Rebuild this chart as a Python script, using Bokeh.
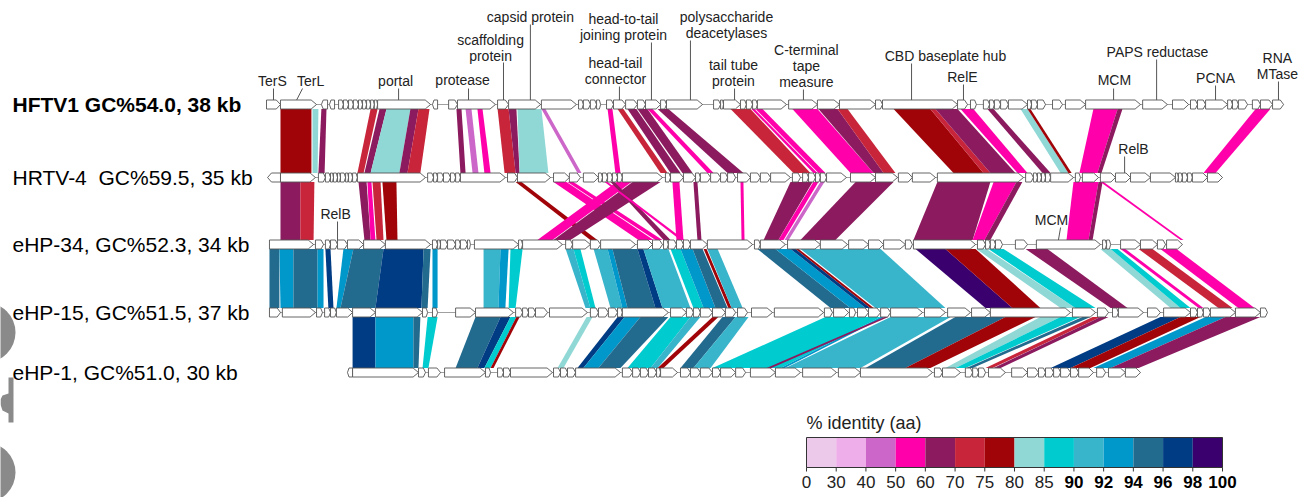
import numpy as np
from bokeh.plotting import figure
from bokeh.models import Range1d
from bokeh.core.properties import value
from bokeh.embed import file_html
from bokeh.resources import INLINE

FONT = "Liberation Sans"

# ---------------- data ----------------
genome_labels = ["HFTV1 GC%54.0, 38 kb", "HRTV-4 \u00a0GC%59.5, 35 kb", "eHP-34, GC%52.3, 34 kb",
                 "eHP-15, GC%51.5, 37 kb", "eHP-1, GC%51.0, 30 kb"]
label_bold = [True, False, False, False, False]

# genes: (start kb, end kb) in a common alignment coordinate
hftv1_genes = [(0.00,0.52),(0.52,1.86),(2.04,2.27),(2.34,2.53),(2.68,2.86),(2.86,3.05),(3.05,3.23),(3.23,3.42),
    (3.42,3.57),(3.57,3.72),(3.72,3.87),(3.87,4.01),(4.01,4.13),(4.13,6.10),(6.17,6.36),(6.77,7.10),(7.10,8.51),
    (8.59,9.00),(9.00,10.19),(10.22,11.52),(11.60,11.78),(11.78,12.04),(12.04,12.27),(12.27,12.42),(12.64,12.90),
    (12.90,13.35),(13.35,13.79),(13.79,14.09),(14.09,14.65),(14.65,14.87),(14.87,16.21),(16.62,16.88),(16.88,16.99),
    (16.99,17.62),(17.62,17.84),(17.84,18.07),(18.07,18.25),(18.25,19.33),(19.41,20.48),(20.48,21.30),(21.30,22.64),
    (22.64,22.90),(22.90,25.69),(25.69,26.06),(26.17,26.39),(26.65,26.88),(26.88,27.06),(27.06,27.29),(27.29,27.58),
    (27.58,28.29),(28.29,28.44),(28.44,28.66),(28.66,28.96),(29.22,29.59),(29.70,30.45),(30.45,32.49),(32.57,33.49),
    (33.68,34.28),(34.35,34.61),(34.61,34.91),(34.91,35.73),(35.73,35.91),(35.91,36.13),(36.13,36.47),(36.65,36.95),
    (36.95,37.40),(37.40,37.81)]
hftv1_reverse = [2, 3, 14]

hrtv4_genes = [(0.04,0.52),(0.52,1.82),(1.93,2.19),(2.19,2.38),(2.38,2.49),(2.49,2.64),(2.64,2.75),(2.75,2.94),
    (2.94,3.05),(3.05,3.20),(3.20,3.38),(3.38,5.91),(5.99,6.21),(6.21,6.36),(6.36,6.58),(6.58,6.84),(6.84,7.03),
    (7.03,7.21),(7.21,8.88),(8.96,9.33),(9.33,10.56),(10.67,11.26),(11.26,11.67),(11.78,12.34),(12.34,12.49),
    (12.49,12.68),(12.68,12.86),(12.86,13.05),(13.05,13.23),(13.23,14.72),(14.83,15.02),(15.02,15.50),(15.50,15.95),
    (15.95,16.13),(16.13,16.51),(16.51,16.88),(16.88,17.14),(17.14,17.44),(17.51,17.99),(17.99,18.36),(18.36,18.74),
    (18.74,19.48),(19.55,19.85),(19.93,20.15),(20.15,20.41),(20.41,20.59),(20.59,20.82),(20.82,21.56),(21.71,22.64),
    (22.64,23.46),(23.49,24.01),(24.01,24.87),(24.94,28.14),(28.22,28.51),(28.51,28.66),(28.66,28.81),(28.81,28.96),
    (28.96,29.15),(29.15,30.00),(30.07,30.26),(30.33,30.93),(31.00,31.56),(31.56,32.12),(32.12,32.86),(32.86,33.79),
    (33.79,33.90),(33.90,34.05),(34.05,34.24),(34.24,34.42),(34.42,34.98),(34.98,35.54)]
hrtv4_reverse = [0]

ehp34_genes = [(0.11,1.75),(1.82,2.12),(2.19,2.38),(2.38,2.64),(2.64,3.01),(3.01,3.61),(3.61,4.42),(4.42,6.10),
    (6.17,6.36),(6.36,6.47),(6.47,6.73),(6.73,7.03),(7.03,7.21),(7.21,7.47),(7.47,7.58),(7.73,9.37),(9.37,9.52),
    (9.52,11.00),(11.12,11.38),(11.38,12.04),(12.04,12.42),(12.42,13.72),(13.79,14.35),(14.35,14.72),(14.76,14.94),
    (14.94,15.24),(15.24,15.50),(15.50,15.76),(15.76,16.39),(16.39,18.07),(18.14,18.36),(18.36,19.29),(19.37,20.59),
    (20.59,21.60),(21.64,22.38),(22.38,22.94),(22.94,23.75),(23.75,24.01),(24.05,26.36),(26.43,26.73),(26.73,26.91),
    (26.91,27.10),(27.10,27.36),(27.84,28.29),(28.62,31.00),(31.08,31.23),(31.23,31.38),(31.75,32.49),(32.49,33.12),
    (33.12,33.42),(33.46,34.05)]
ehp34_reverse = []

ehp15_genes = [(0.11,0.52),(0.59,1.82),(1.86,2.08),(2.16,2.38),(2.38,2.60),(2.60,3.20),(3.20,4.05),(4.05,5.80),
    (5.80,5.99),(6.17,6.36),(7.03,7.77),(7.77,9.18),(9.26,9.52),(9.52,9.74),(9.74,10.00),(10.00,10.45),(10.52,11.93),
    (12.04,12.34),(12.34,12.71),(12.71,13.05),(13.05,13.23),(13.23,14.94),(15.02,15.61),(15.61,15.87),(15.87,16.13),
    (16.13,16.58),(16.58,17.06),(17.06,17.44),(17.51,17.88),(18.03,18.81),(18.88,20.71),(20.74,21.04),(21.08,21.64),
    (21.67,21.90),(21.97,22.38),(22.38,22.83),(22.83,23.20),(23.20,24.39),(24.46,25.24),(25.32,26.17),(26.21,26.91),
    (26.91,29.89),(29.96,30.82),(30.89,31.30),(31.45,31.67),(31.67,32.60),(32.75,33.23),(33.35,34.35),(34.35,34.61),
    (34.61,34.83),(34.83,35.09),(35.09,36.02),(36.02,36.95),(36.95,37.21)]
ehp15_reverse = []

ehp1_genes = [(3.01,3.20),(3.20,5.65),(5.65,5.91),(6.02,6.47),(6.62,8.14),(8.14,8.33),(8.59,8.81),(8.81,9.07),
    (9.07,10.63),(10.67,10.93),(10.93,11.19),(11.19,11.49),(11.49,13.16),(13.23,13.61),(13.61,13.90),(13.90,14.20),
    (14.20,14.50),(14.50,14.65),(14.65,15.28),(15.39,15.76),(15.76,16.13),(16.13,16.58),(16.58,16.88),(16.88,17.44),
    (17.44,17.81),(17.99,18.92),(18.92,19.85),(19.93,21.19),(21.26,22.08),(22.08,24.76),(24.83,25.13),(25.13,25.80),
    (25.98,26.25),(26.25,26.47),(26.47,26.73),(26.84,27.47),(27.70,28.29),(28.29,28.70),(28.70,28.96),(28.96,29.26),
    (29.26,29.52),(29.52,29.89),(29.89,30.19),(30.19,30.74),(30.86,31.19),(31.30,31.93),(31.93,32.49)]
ehp1_reverse = [0]

# homology links: (upper start, upper end, lower start, lower end, % aa identity)
links_hftv1_hrtv4 = [
    (0.52,1.67,0.52,1.67,78),(1.71,1.93,1.71,1.90,83),(2.04,2.23,1.93,2.16,65),(3.87,4.13,3.38,3.61,72),
    (4.20,4.46,3.64,3.87,65),(4.46,5.35,3.87,4.94,83),(5.35,5.65,4.94,5.24,65),(5.65,6.06,5.24,5.72,72),
    (7.06,7.25,7.21,7.40,65),(7.40,7.62,7.66,7.88,45),(7.84,8.03,8.10,8.33,55),(8.59,9.00,8.85,9.26,72),
    (9.00,9.29,9.26,9.41,65),(9.33,10.22,9.41,10.48,83),(10.22,10.37,11.56,11.71,45),(12.68,12.86,12.97,13.16,55),
    (13.05,13.27,14.65,14.91,72),(13.42,13.75,15.02,15.39,65),(13.79,14.16,15.46,15.84,65),(14.16,14.35,16.39,16.62,55),
    (14.54,14.94,17.14,17.73,65),(17.25,17.99,19.59,20.22,72),(18.03,18.14,20.33,20.48,55),(18.18,18.44,20.52,20.78,55),
    (19.55,20.48,21.71,22.57,55),(20.52,21.23,22.57,22.94,65),(21.23,21.60,22.94,23.38,72),(23.31,24.68,25.54,26.65,78),
    (24.68,24.87,26.65,26.91,72),(24.87,25.69,26.91,27.84,65),(25.80,26.28,27.92,28.29,55),(26.80,27.03,28.85,29.15,65),
    (28.03,28.29,29.52,29.81,83),(28.29,28.40,29.81,29.93,78),(30.74,31.64,30.22,30.89,55),(31.64,31.82,30.89,31.04,65),
    (36.77,37.32,34.83,35.28,55)]
links_hrtv4_ehp34 = [
    (0.52,1.26,0.52,1.26,65),(1.26,1.78,1.26,1.75,72),(3.42,3.72,3.64,3.87,65),(3.75,3.90,3.87,4.05,55),
    (3.94,4.24,4.09,4.35,72),(4.31,4.83,4.46,4.87,78),(9.26,9.48,12.04,12.30,78),(10.67,11.15,13.83,14.39,55),
    (11.19,11.41,14.46,14.72,55),(13.01,13.57,10.07,10.63,55),(13.61,14.65,10.67,11.30,65),(12.79,12.94,14.76,15.02,65),
    (12.57,12.68,15.39,15.54,55),(15.09,15.35,15.24,15.50,55),(15.87,16.02,16.02,16.17,65),(17.62,17.73,17.66,17.77,55),
    (19.48,20.30,18.48,19.03,65),(20.33,20.52,19.03,19.22,55),(20.59,20.74,19.26,19.41,45),(21.90,23.31,19.85,21.15,65),
    (24.94,26.91,24.05,26.25,65),(27.03,27.88,26.25,26.69,55),(27.88,28.10,26.69,26.91,65),(30.00,30.93,29.74,30.56,55),
    (30.93,31.08,30.56,30.71,65),(31.00,31.12,33.98,34.09,55)]
links_ehp34_ehp15 = [
    (0.11,0.48,0.11,0.48,95),(0.48,1.00,0.52,1.00,93),(1.00,1.90,1.00,1.90,95),(1.90,2.12,1.90,2.12,93),
    (2.19,2.38,2.30,2.49,97),(2.86,3.23,2.60,2.75,93),(3.23,4.35,2.75,4.05,95),(4.35,5.84,4.05,5.76,97),
    (5.84,6.10,5.76,5.99,95),(6.17,6.36,6.17,6.36,93),(8.07,8.70,8.07,8.62,91),(8.70,9.00,8.62,8.88,93),
    (9.07,9.52,9.00,9.26,88),(11.12,11.41,11.86,12.04,91),(11.41,11.67,12.04,12.23,88),(12.16,12.68,12.79,13.23,91),
    (12.68,12.86,13.23,13.42,93),(12.86,13.79,13.42,14.46,95),(13.79,14.01,14.46,14.72,97),(14.01,14.94,14.72,15.76,91),
    (15.02,15.39,15.87,16.25,88),(15.39,15.84,16.25,16.69,93),(15.84,16.21,16.69,17.14,95),(16.25,16.36,17.17,17.29,78),
    (16.39,16.77,17.29,17.70,91),(18.25,18.92,20.97,21.71,95),(18.92,19.48,21.71,22.27,93),(19.48,19.67,22.27,22.45,97),
    (19.67,19.78,22.45,22.57,78),(19.85,22.83,22.64,25.24,91),(24.13,25.24,26.73,27.73,99),(25.24,26.36,27.73,28.77,78),
    (26.39,26.77,29.52,30.07,83),(26.84,27.40,30.07,30.82,88),(28.22,29.03,31.38,32.01,65),(31.00,31.38,33.61,33.98,83),
    (31.38,31.64,33.98,34.35,88),(31.75,31.93,34.65,34.83,55),(32.42,32.94,35.39,35.91,72),(33.23,33.83,36.13,36.73,55)]
links_ehp15_ehp1 = [
    (3.20,4.05,3.20,4.05,97),(4.05,5.46,4.05,5.46,93),(5.46,5.72,5.46,5.65,95),(5.99,6.36,5.80,6.02,88),
    (7.77,8.70,7.03,7.84,95),(8.70,9.07,7.84,8.10,97),(9.07,9.29,8.10,8.33,88),(9.29,9.41,8.33,8.44,78),
    (11.90,12.12,10.82,11.04,83),(13.05,13.31,11.56,11.78,97),(13.31,13.90,11.78,12.34,93),(13.90,14.94,12.34,13.16,95),
    (15.02,15.76,13.42,14.28,88),(15.76,16.13,14.28,14.54,91),(16.58,16.80,14.54,14.76,78),(16.95,17.44,15.39,15.87,95),
    (17.44,17.92,15.87,16.51,91),(20.78,22.83,16.58,19.11,88),(22.83,22.97,19.11,19.26,93),(22.97,23.12,18.59,18.77,65),
    (23.20,25.43,19.29,22.08,91),(25.61,27.47,22.27,23.75,95),(27.47,28.59,23.75,24.68,78),(28.77,29.52,25.24,25.61,83),
    (29.52,30.26,25.61,25.98,88),(30.33,30.63,26.02,26.25,95),(30.71,31.00,26.73,26.99,72),(31.00,31.30,27.03,27.29,65),
    (33.23,33.98,29.15,29.89,97),(33.98,34.72,29.89,30.63,78),(34.91,35.65,30.74,31.38,93),(35.65,36.95,31.38,32.42,65)]

# gene annotations: (text, text x kb, first-line y px, leader top x kb, leader bottom x kb, leader top y px, track)
annotations = [
    ("TerS", 0.22, 80, 0.26, 0.26, 88, 0),
    ("TerL", 1.64, 80, 1.34, 1.12, 88, 0),
    ("portal", 4.80, 80, 4.91, 4.91, 88, 0),
    ("protease", 7.29, 79, 7.51, 7.51, 88, 0),
    ("scaffolding\nprotein", 8.33, 39, 8.81, 8.81, 62, 0),
    ("capsid protein", 9.81, 16, 9.81, 9.81, 24, 0),
    ("head-to-tail\njoining protein", 13.27, 18, 14.31, 14.31, 42, 0),
    ("head-tail\nconnector", 12.97, 62, 13.12, 13.12, 86, 0),
    ("polysaccharide\ndeacetylases", 17.10, 16, 15.76, 15.76, 40, 0),
    ("tail tube\nprotein", 17.36, 64, 17.40, 17.40, 88, 0),
    ("C-terminal\ntape\nmeasure", 20.07, 49, 19.96, 19.96, 89, 0),
    ("CBD baseplate hub", 25.24, 55, 23.98, 23.98, 63, 0),
    ("RelE", 25.87, 76, 25.91, 25.91, 84, 0),
    ("MCM", 31.52, 79, 31.49, 31.49, 88, 0),
    ("PAPS reductase", 33.12, 51, 33.09, 33.09, 59, 0),
    ("PCNA", 35.28, 77, 35.28, 35.28, 85, 0),
    ("RNA\nMTase", 37.58, 57, 37.62, 37.62, 81, 0),
    ("RelB", 32.23, 148, 31.90, 31.90, 156, 1),
    ("RelB", 2.57, 213, 2.64, 2.64, 221, 2),
    ("MCM", 29.18, 219, 29.52, 29.44, 227, 2),
]

identity_edges = [0, 30, 40, 50, 60, 70, 75, 80, 85, 90, 92, 94, 96, 98, 100]
identity_colors = ["#ecc8ea", "#eeaeea", "#cc66c8", "#ff00aa", "#8b1a5e", "#c8253a", "#a00408",
                   "#8fd8d6", "#00cccf", "#38b4cb", "#0098cb", "#226b8f", "#003c83", "#3a006e"]
bold_threshold = 90

# ---------------- layout (pixels of the page) ----------------
W, H = 1312, 497
PX_PER_KB = 26.9
ORIGIN_PX = 266
track_y = [104, 177, 244, 312, 372]
GENE_H = 4.5
LINE_GAP = 16

XS = -ORIGIN_PX / PX_PER_KB
XE = XS + W / PX_PER_KB


def X(px):
    return XS + px / PX_PER_KB


def ident_color(v):
    i = int(np.searchsorted(identity_edges, v, side="right")) - 1
    return identity_colors[max(0, min(i, len(identity_colors) - 1))]


p = figure(width=W, height=H, x_range=Range1d(XS, XE), y_range=Range1d(H, 0),
           output_backend="svg", toolbar_location=None, min_border=0,
           x_axis_location=None, y_axis_location=None, outline_line_color=None)
p.grid.visible = False
p.background_fill_color = "white"

# decorative gray shapes at left edge
p.circle(x=[X(-15), X(-15)], y=[332, 472], radius=30, radius_units="screen",
         fill_color="#8a8a8a", line_color=None)
p.patch(x=[X(8), X(13), X(13), X(8), X(8), X(2), X(0), X(0), X(2), X(8)],
        y=[377, 377, 422, 422, 413, 410, 404, 399, 395, 393],
        fill_color="#8a8a8a", line_color=None)

# links
pairs = [links_hftv1_hrtv4, links_hrtv4_ehp34, links_ehp34_ehp15, links_ehp15_ehp1]
for k, links in enumerate(pairs):
    y0 = track_y[k] + GENE_H
    y1 = track_y[k + 1] - GENE_H
    xs, ys, cols = [], [], []
    for ta, tb, ba, bb, ident in links:
        xs.append([ta, tb, bb, ba])
        ys.append([y0, y0, y1, y1])
        cols.append(ident_color(ident))
    p.patches(xs, ys, fill_color=cols, line_color=None)

# tracks
all_genes = [hftv1_genes, hrtv4_genes, ehp34_genes, ehp15_genes, ehp1_genes]
all_rev = [hftv1_reverse, hrtv4_reverse, ehp34_reverse, ehp15_reverse, ehp1_reverse]
for k, genes in enumerate(all_genes):
    y = track_y[k]
    starts = [g[0] for g in genes]
    ends = [g[1] for g in genes]
    p.line([min(starts), max(ends)], [y, y], line_color="#a0a0a0", line_width=1)
    gx, gy = [], []
    for i, (s, e) in enumerate(genes):
        tip = min(0.2, 0.3 * (e - s))
        if i in all_rev[k]:
            gx.append([e, s + tip, s, s + tip, e])
        else:
            gx.append([s, e - tip, e, e - tip, s])
        gy.append([y - GENE_H, y - GENE_H, y, y + GENE_H, y + GENE_H])
    p.patches(gx, gy, fill_color="white", line_color="#555555", line_width=0.9)

# genome labels
for k, (lab, b) in enumerate(zip(genome_labels, label_bold)):
    p.text(x=[X(12)], y=[track_y[k]], text=[lab], text_font=value(FONT), text_font_size="21px",
           text_font_style="bold" if b else "normal", text_align="left", text_baseline="middle",
           text_color="black")

# annotations
tx, ty, tt = [], [], []
sx0, sx1, sy0, sy1 = [], [], [], []
for text, x, y_first, lx_top, lx_bot, ly_top, trk in annotations:
    for j, line in enumerate(text.split("\n")):
        tx.append(x)
        ty.append(y_first + j * LINE_GAP)
        tt.append(line)
    sx0.append(lx_top); sy0.append(ly_top)
    sx1.append(lx_bot); sy1.append(track_y[trk] - GENE_H)
p.segment(x0=sx0, y0=sy0, x1=sx1, y1=sy1, line_color="#555555", line_width=1)
p.text(x=tx, y=ty, text=tt, text_font=value(FONT), text_font_size="14px", text_align="center",
       text_baseline="middle", text_color="#222222")

# identity legend
LEG_L, LEG_R, LEG_T, LEG_B = 806, 1222, 437, 467
n = len(identity_colors)
bw = (LEG_R - LEG_L) / n
p.quad(left=[X(LEG_L + i * bw) for i in range(n)], right=[X(LEG_L + (i + 1) * bw) for i in range(n)],
       top=[LEG_T] * n, bottom=[LEG_B] * n, fill_color=identity_colors, line_color=None)
p.quad(left=[X(LEG_L)], right=[X(LEG_R)], top=[LEG_T], bottom=[LEG_B], fill_color=None,
       line_color="#333333", line_width=1)
tick_x = [X(LEG_L + i * bw) for i in range(n + 1)]
p.segment(x0=tick_x, y0=[LEG_B] * (n + 1), x1=tick_x, y1=[LEG_B + 4] * (n + 1), line_color="#333333")
norm = [(tick_x[i], str(v)) for i, v in enumerate(identity_edges) if v < bold_threshold]
bold = [(tick_x[i], str(v)) for i, v in enumerate(identity_edges) if v >= bold_threshold]
p.text(x=[a for a, _ in norm], y=[481] * len(norm), text=[b for _, b in norm], text_font=value(FONT),
       text_font_size="17px", text_align="center", text_baseline="middle", text_color="#222222")
p.text(x=[a for a, _ in bold], y=[481] * len(bold), text=[b for _, b in bold], text_font=value(FONT),
       text_font_size="17px", text_font_style="bold", text_align="center", text_baseline="middle",
       text_color="black")
p.text(x=[X(LEG_L)], y=[422], text=["% identity (aa)"], text_font=value(FONT), text_font_size="18px",
       text_align="left", text_baseline="middle", text_color="#222222")

open("out.html", "w").write(file_html(p, INLINE))
